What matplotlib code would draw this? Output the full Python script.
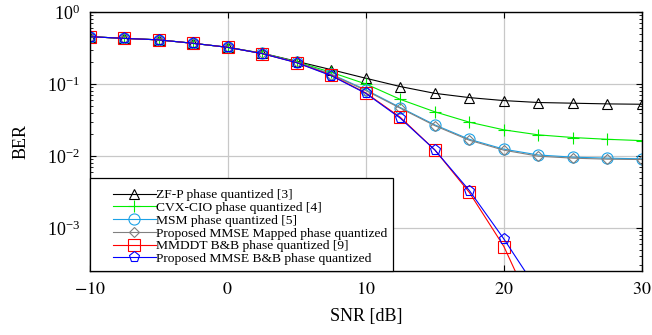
import numpy as np
import matplotlib
matplotlib.use("Agg")
import matplotlib.pyplot as plt
from matplotlib.patches import Rectangle

plt.rcParams['font.family'] = ['Liberation Serif', 'DejaVu Serif']
plt.rcParams['mathtext.fontset'] = 'stix'

snr = [-10, -7.5, -5, -2.5, 0, 2.5, 5, 7.5, 10, 12.5, 15, 17.5, 20, 22.5, 25, 27.5, 30]
snr_bb = [-10, -7.5, -5, -2.5, 0, 2.5, 5, 7.5, 10, 12.5, 15, 17.5, 20, 22.5]

ber_zfp = [0.454, 0.43, 0.41, 0.367, 0.323, 0.268, 0.206, 0.158, 0.12, 0.092, 0.074,
           0.0646, 0.0587, 0.0552, 0.054, 0.0528, 0.0522]
ber_cvx = [0.454, 0.43, 0.41, 0.367, 0.323, 0.266, 0.203, 0.145, 0.1, 0.061, 0.041,
           0.0294, 0.023, 0.0196, 0.018, 0.017, 0.0163]
ber_msm = [0.454, 0.43, 0.41, 0.367, 0.323, 0.265, 0.2, 0.137, 0.083, 0.047, 0.027,
           0.017, 0.0124, 0.0103, 0.0096, 0.0093, 0.0091]
ber_mapped = [0.454, 0.43, 0.41, 0.367, 0.323, 0.265, 0.2, 0.135, 0.081, 0.046, 0.0263,
              0.0165, 0.012, 0.0099, 0.0093, 0.009, 0.0089]
ber_mmddt = [0.454, 0.43, 0.41, 0.367, 0.323, 0.264, 0.198, 0.132, 0.075, 0.0344, 0.0121,
             0.0031, 0.00055, 0.00005]
ber_bb = [0.454, 0.43, 0.41, 0.367, 0.323, 0.264, 0.197, 0.13, 0.074, 0.0334, 0.0121,
          0.0033, 0.0007, 0.00013]

fig = plt.figure(figsize=(6.52, 3.35), dpi=100)
ax = fig.add_axes([0.1373, 0.191, 0.8474, 0.7732])

lw = 0.8
ax.semilogy(snr, ber_zfp, color='black', lw=lw, marker='^', ms=7, mfc='none', mew=0.8,
            label='ZF-P phase quantized [3]')
ax.semilogy(snr, ber_cvx, color='#00ee00', lw=lw, marker='+', ms=9, mew=0.8,
            label='CVX-CIO phase quantized [4]')
ax.semilogy(snr, ber_msm, color='#1ba1e6', lw=lw, marker='o', ms=8, mfc='none', mew=0.8,
            label='MSM phase quantized [5]')
ax.semilogy(snr, ber_mapped, color='gray', lw=lw, marker='D', ms=5, mfc='none', mew=0.8,
            label='Proposed MMSE Mapped phase quantized')
ax.semilogy(snr_bb, ber_mmddt, color='red', lw=lw, marker='s', ms=8, mfc='none', mew=0.8,
            label='MMDDT B&B phase quantized [9]')
ax.semilogy(snr_bb, ber_bb, color='blue', lw=lw, marker='p', ms=8, mfc='none', mew=0.8,
            label='Proposed MMSE B&B phase quantized')

ax.set_xlim(-10, 30)
ax.set_ylim(10 ** -3.6, 1)
ax.set_xticks([-10, 0, 10, 20, 30])
ax.set_xticklabels(['$-10$', '$0$', '$10$', '$20$', '$30$'])
ax.grid(True, which='major', color='#c8c8c8', lw=0.9)
ax.tick_params(which='both', direction='in', top=True, right=True, labelsize=13, pad=7)
ax.tick_params(which='major', length=4)
ax.tick_params(which='minor', length=2.5)
for s in ax.spines.values():
    s.set_linewidth(1.0)

ax.set_xlabel('SNR [dB]', fontsize=13, labelpad=7.5)
ax.set_ylabel('BER', fontsize=13, labelpad=12)

# legend sits in the lower left corner, the frame is drawn separately so the
# handles can be indented from the left axis edge
leg = ax.legend(loc='lower left', bbox_to_anchor=(0.031, 0.0), fontsize=9.7,
                labelspacing=0.02, handlelength=3.2, handletextpad=0.0,
                borderaxespad=0.0, borderpad=0.45, frameon=False)
leg.set_zorder(5)
fig.canvas.draw()
bb = leg.get_window_extent().transformed(ax.transAxes.inverted())
frame = Rectangle((0, 0), bb.x1, bb.y1 + 0.018, transform=ax.transAxes, clip_on=False,
                  facecolor='white', edgecolor='black', lw=0.9, zorder=4.9)
ax.add_patch(frame)

fig.savefig('out.png', dpi=100)
